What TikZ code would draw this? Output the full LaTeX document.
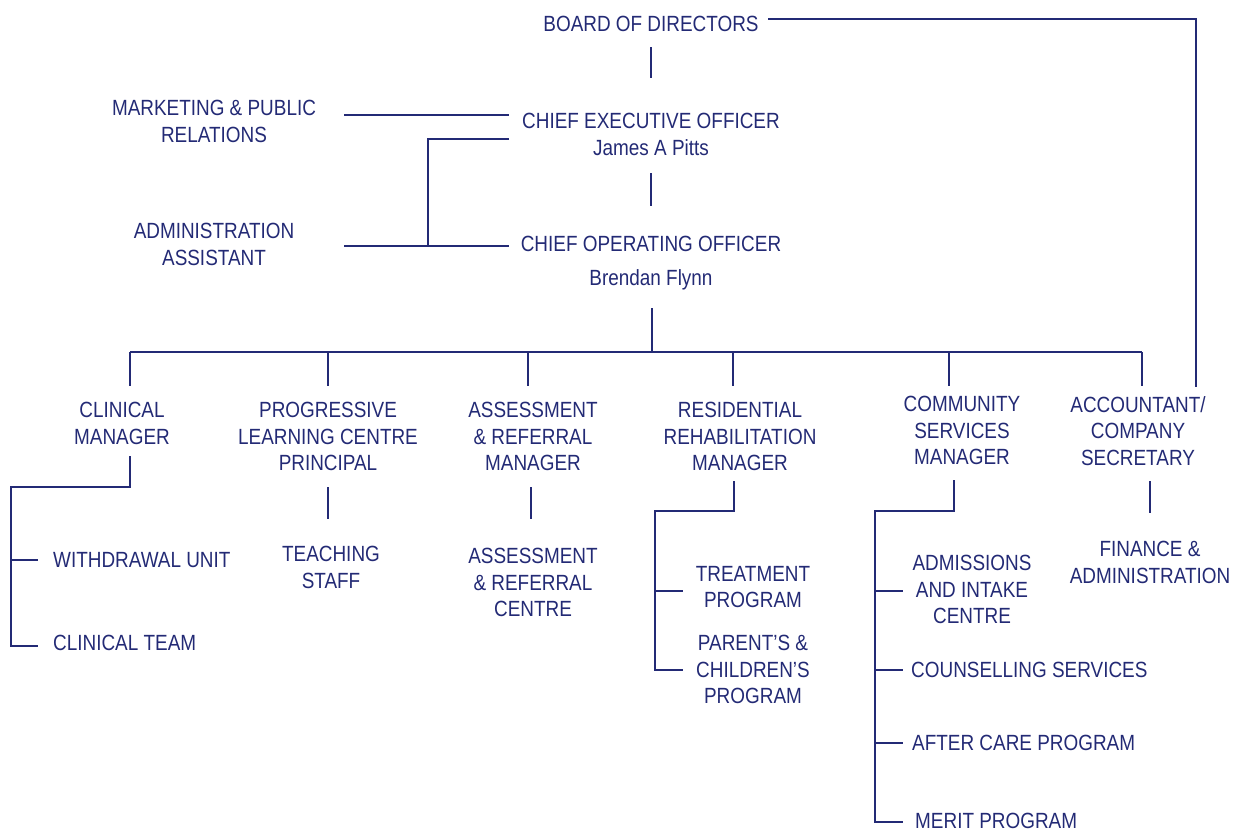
\documentclass[tikz,border=0pt]{standalone}
\usepackage{fontspec}
\setmainfont[FakeStretch=0.86]{Liberation Sans}
\usepackage{tikz}
\usetikzlibrary{calc}

\definecolor{navy}{RGB}{35,42,117}

\tikzset{
  lbl/.style={inner sep=0pt, align=center, anchor=north, text=navy,
              font=\fontsize{22}{26.5}\selectfont},
  lbll/.style={lbl, anchor=north west, align=left},
  link/.style={draw=navy, line width=2.8pt}
}

\begin{document}
\begin{tikzpicture}[x=1pt,y=-1pt]

        \useasboundingbox (0,0) rectangle (1239,833);

        % Top of the chart
        \node[lbl] (bod) at (651,16) {BOARD OF DIRECTORS};
        \node[lbl] (ceo) at (651,113) {CHIEF EXECUTIVE OFFICER\\James A Pitts};
        \node[lbl] (coo) at (651,236) {CHIEF OPERATING OFFICER\\[7.5pt]Brendan Flynn};
        \node[lbl] (mkt) at (214,100) {MARKETING \& PUBLIC\\RELATIONS};
        \node[lbl] (adm) at (214,223) {ADMINISTRATION\\ASSISTANT};

        % Managers
        \node[lbl] (clin) at (122,402) {CLINICAL\\MANAGER};
        \node[lbl] (prog) at (328,402) {PROGRESSIVE\\LEARNING CENTRE\\PRINCIPAL};
        \node[lbl] (ass) at (533,402) {ASSESSMENT\\\& REFERRAL\\MANAGER};
        \node[lbl] (res) at (740,402) {RESIDENTIAL\\REHABILITATION\\MANAGER};
        \node[lbl] (com) at (962,396) {COMMUNITY\\SERVICES\\MANAGER};
        \node[lbl] (acc) at (1138,396) {ACCOUNTANT/\\COMPANY\\SECRETARY};

        % Units
        \node[lbll] (wdu) at (53,552) {WITHDRAWAL UNIT};
        \node[lbll] (clt) at (53,635) {CLINICAL TEAM};
        \node[lbl] (tch) at (331,546) {TEACHING\\STAFF};
        \node[lbl] (arc) at (533,548) {ASSESSMENT\\\& REFERRAL\\CENTRE};
        \node[lbl] (trt) at (753,566) {TREATMENT\\PROGRAM};
        \node[lbl] (pcp) at (753,635) {PARENT'S \&\\CHILDREN'S\\PROGRAM};
        \node[lbl] (aic) at (972,555) {ADMISSIONS\\AND INTAKE\\CENTRE};
        \node[lbll] (cns) at (911,662) {COUNSELLING SERVICES};
        \node[lbll] (acp) at (912,735) {AFTER CARE PROGRAM};
        \node[lbll] (mer) at (915,813) {MERIT PROGRAM};
        \node[lbl] (fin) at (1150,541) {FINANCE \&\\ADMINISTRATION};

        % Board, CEO, COO
        \draw[link] ($(bod.north)+(0,31)$) -- ($(ceo.north)+(0,-35)$);
        \draw[link] ($(bod.north)+(117,3)$) -| ($(acc.north)+(58,-9)$);
        \draw[link] ($(mkt.north)+(130,15)$) -- ($(ceo.north)+(-142,2)$);
        \draw[link] ($(adm.north)+(130,23)$) -- ($(coo.north)+(-142,10)$);
        \draw[link] ($(ceo.north)+(-142,26)$) -| ($(adm.north)+(214,23)$);
        \draw[link] ($(ceo.north)+(0,60)$) -- ($(coo.north)+(0,-30)$);

        % Bus to the managers
        \coordinate (bus) at ($(coo.north)+(1,116)$);
        \draw[link] ($(coo.north)+(1,72)$) -- (bus);
        \draw[link] ($(clin.north)+(8,-50)$) -- ($(acc.north)+(4,-44)$);
        \foreach \n/\dx/\up in {clin/8/50, prog/0/50, ass/-5/50, res/-7/50, com/-13/44, acc/4/44}
            \draw[link] ($(\n.north)+(\dx,-\up)$) -- ++(0,34);

        % Clinical
        \draw[link] ($(clin.north)+(8,54)$) |- ($(wdu.north west)+(-42,-65)$)
            |- ($(clt.north west)+(-15,11)$);
        \draw[link] ($(wdu.north west)+(-42,8)$) -- ($(wdu.north west)+(-15,8)$);

        % Learning centre, assessment
        \draw[link] ($(prog.north)+(0,85)$) -- ($(tch.north)+(-3,-27)$);
        \draw[link] ($(ass.north)+(-2,85)$) -- ($(arc.north)+(-2,-29)$);

        % Residential
        \draw[link] ($(res.north)+(-6,79)$) |- ($(trt.north)+(-98,-55)$)
            |- ($(pcp.north)+(-70,35)$);
        \draw[link] ($(trt.north)+(-98,25)$) -- ($(trt.north)+(-70,25)$);

        % Community services
        \draw[link] ($(com.north)+(-8,84)$) |- ($(aic.north)+(-97,-44)$)
            |- ($(mer.north west)+(-12,9)$);
        \draw[link] ($(aic.north)+(-97,36)$) -- ($(aic.north)+(-69,36)$);
        \draw[link] ($(cns.north west)+(-36,8)$) -- ($(cns.north west)+(-8,8)$);
        \draw[link] ($(acp.north west)+(-37,8)$) -- ($(acp.north west)+(-9,8)$);

        % Accountant
        \draw[link] ($(acc.north)+(12,85)$) -- ($(fin.north)+(0,-28)$);

    \end{tikzpicture}
\end{document}
